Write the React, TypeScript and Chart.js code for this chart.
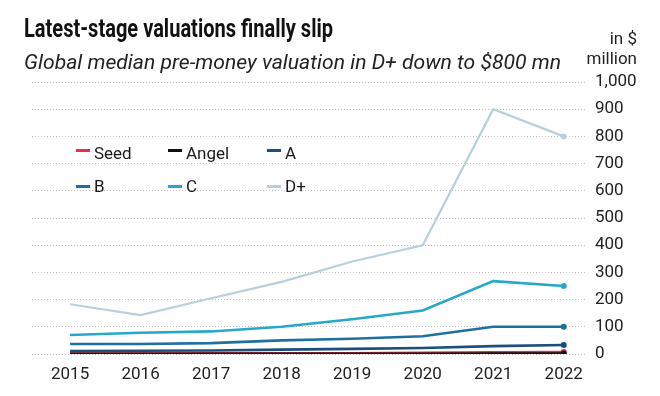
import React, { useEffect, useLayoutEffect, useRef } from "react";
import { Chart, registerables } from "chart.js";

Chart.register(...registerables);

const years = [2015, 2016, 2017, 2018, 2019, 2020, 2021, 2022];
const seedValues = [2, 2, 3, 3, 3, 4, 6, 7];
const angelValues = [1, 1, 1, 1, 1, 1, 2, 2];
const aValues = [11, 12, 13, 16, 19, 22, 29, 33];
const bValues = [37, 37, 40, 50, 56, 65, 100, 100];
const cValues = [70, 78, 83, 100, 128, 160, 268, 250];
const dPlusValues = [183, 143, 205, 265, 340, 400, 900, 800];

const seriesNames = ["Seed", "Angel", "A", "B", "C", "D+"];
const seriesValues = [seedValues, angelValues, aValues, bValues, cValues, dPlusValues];
const seriesColors = ["#e0304f", "#111111", "#1b4f7a", "#1f6f9f", "#27a8cb", "#b7d0db"];
const seriesWidths = [2.6, 2.6, 2.6, 2.6, 2.6, 2.2];
const seriesDrawOrder = [1, 0, 2, 3, 4, 5];

const yTickValues = [0, 100, 200, 300, 400, 500, 600, 700, 800, 900, 1000];

const TITLE = "Latest-stage valuations finally slip";
const SUBTITLE = "Global median pre-money valuation in D+ down to $800 mn";
const UNIT_LINES = ["in $", "million"];

const FONT = "Roboto, 'Noto Sans', 'DejaVu Sans', sans-serif";

const legendPlugin = {
  id: "gridLegend",
  afterDatasetsDraw(chart: any) {
    const ctx = chart.ctx;
    const cols = [76, 168, 267];
    const symbolRows = [150.5, 186.5];
    const textRows = [158.5, 192];
    ctx.save();
    ctx.font = `17px ${FONT}`;
    ctx.textBaseline = "alphabetic";
    ctx.textAlign = "left";
    chart.data.datasets.forEach((ds: any, i: number) => {
      const x = cols[i % 3];
      const r = Math.floor(i / 3);
      ctx.fillStyle = ds.borderColor;
      ctx.fillRect(x, symbolRows[r] - 1.5, 14, 3);
      ctx.fillStyle = "#1a1a1a";
      ctx.fillText(ds.label, x + 18, textRows[r]);
    });
    ctx.restore();
  },
};

function FitLine(props: { text: string; left: number; top: number; width: number; style: any }) {
  const ref = useRef<HTMLDivElement>(null);
  useLayoutEffect(() => {
    const el = ref.current;
    if (!el) return;
    const fit = () => {
      el.style.transform = "none";
      const w = el.getBoundingClientRect().width;
      if (w > 0) el.style.transform = `scaleX(${props.width / w})`;
    };
    fit();
    const f: any = (document as any).fonts;
    if (f && f.ready) f.ready.then(fit);
  }, [props.text, props.width]);
  return (
    <div
      ref={ref}
      style={{
        position: "absolute",
        left: props.left,
        top: props.top,
        whiteSpace: "nowrap",
        transformOrigin: "0 0",
        ...props.style,
      }}
    >
      {props.text}
    </div>
  );
}

export default function App() {
  const canvasRef = useRef<HTMLCanvasElement>(null);

  useEffect(() => {
    if (!canvasRef.current) return;
    const datasets = seriesNames.map((name, i) => ({
      label: name,
      data: years.map((yr, j) => ({ x: yr, y: seriesValues[i][j] })),
      borderColor: seriesColors[i],
      backgroundColor: seriesColors[i],
      borderWidth: seriesWidths[i],
      order: seriesDrawOrder[i],
      pointRadius: (c: any) => (c.dataIndex === years.length - 1 ? 3 : 0),
      pointBorderWidth: 0,
      tension: 0,
      fill: false,
    }));

    const chart = new Chart(canvasRef.current, {
      type: "line",
      data: { datasets },
      plugins: [legendPlugin],
      options: {
        animation: false,
        responsive: false,
        layout: { padding: { left: 32, right: 0, top: 82, bottom: 0 } },
        plugins: {
          legend: { display: false },
          tooltip: { enabled: false },
          title: { display: false },
        },
        scales: {
          x: {
            type: "linear",
            min: 2014.46,
            max: 2022.33,
            grid: { display: false },
            border: { display: false },
            afterBuildTicks: (axis: any) => {
              axis.ticks = years.map((v) => ({ value: v }));
            },
            afterFit: (axis: any) => {
              axis.height = 396 - 354;
            },
            ticks: {
              autoSkip: false,
              maxRotation: 0,
              padding: 3,
              color: "#222",
              font: { family: FONT, size: 17 },
              callback: (v: any) => String(v),
            },
          },
          y: {
            position: "right",
            min: 0,
            max: 1000,
            grid: { color: "#c2c2c2", lineWidth: 1, drawTicks: false },
            border: { display: false, dash: [1, 2] },
            afterBuildTicks: (axis: any) => {
              axis.ticks = yTickValues.map((v) => ({ value: v }));
            },
            afterFit: (axis: any) => {
              axis.width = 660 - 587;
            },
            ticks: {
              padding: 8,
              color: "#222",
              font: { family: FONT, size: 17 },
              callback: (v: any) => Number(v).toLocaleString("en-US"),
            },
          },
        },
      },
    } as any);
    return () => chart.destroy();
  }, []);

  return (
    <div style={{ position: "absolute", left: 0, top: 0, width: 660, height: 396, background: "#fff", overflow: "hidden" }}>
      <canvas ref={canvasRef} width={660} height={396} style={{ position: "absolute", left: 0, top: 0, width: 660, height: 396 }} />
      <FitLine
        text={TITLE}
        left={24}
        top={16}
        width={309}
        style={{ fontFamily: FONT, fontWeight: 700, fontSize: 25, lineHeight: "25px", color: "#111" }}
      />
      <FitLine
        text={SUBTITLE}
        left={24}
        top={52}
        width={537}
        style={{ fontFamily: FONT, fontStyle: "italic", fontSize: 21, lineHeight: "21px", color: "#222" }}
      />
      <div
        style={{
          position: "absolute",
          left: 540,
          top: 28,
          width: 97,
          textAlign: "right",
          fontFamily: FONT,
          fontSize: 17,
          lineHeight: "20px",
          color: "#222",
        }}
      >
        {UNIT_LINES.map((t) => (
          <div key={t}>{t}</div>
        ))}
      </div>
    </div>
  );
}
